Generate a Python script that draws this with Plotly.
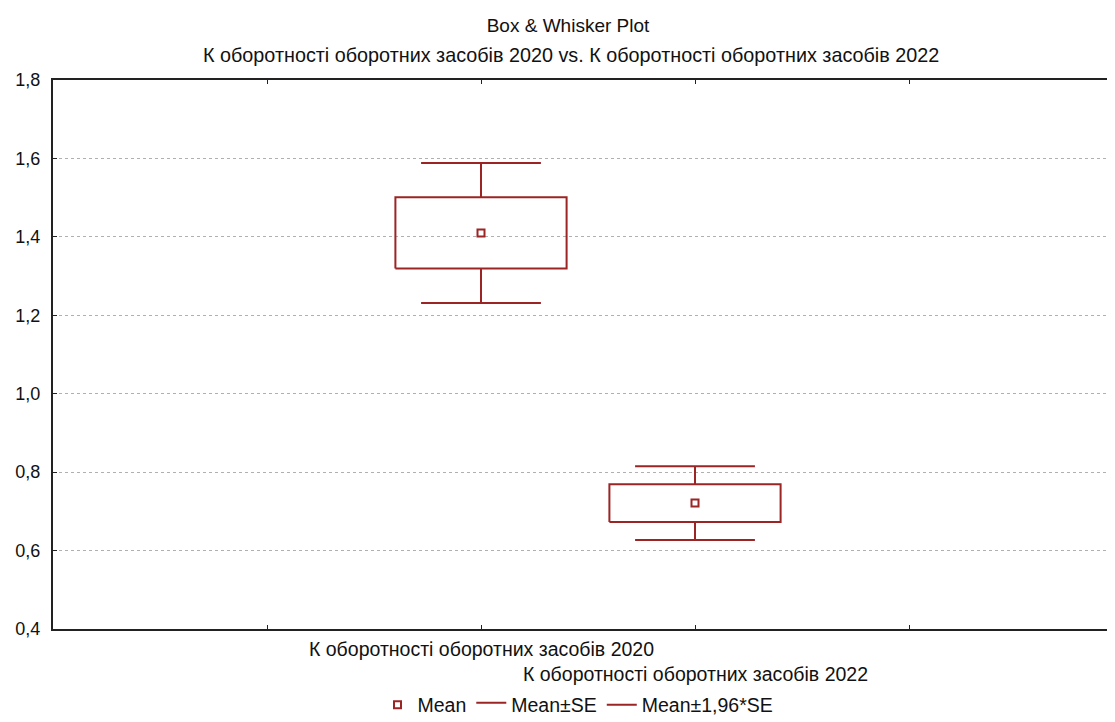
import plotly.graph_objects as go

categories = ["К оборотності оборотних засобів 2020", "К оборотності оборотних засобів 2022"]
cat_pos = [1, 2]
means = [1.410, 0.721]
se = [0.091, 0.048]
ci_mult = 1.96
title_main = "Box & Whisker Plot"
subtitle = "К оборотності оборотних засобів 2020 vs. К оборотності оборотних засобів 2022"

COLOR = "#9b2424"
BOX_HALF = 0.40
CAP_HALF = 0.28
FONT = "Liberation Sans, Arial"
FS = 19.5
W, H = 1115, 714
ML, MT, MB = 45, 72, 93
PLOT_H = H - MT - MB
PLOT_W = W - ML

box_x, box_y, wh_x, wh_y = [], [], [], []
for c, m, s in zip(cat_pos, means, se):
    lo, hi = m - s, m + s
    wlo, whi = m - ci_mult * s, m + ci_mult * s
    box_x += [c - BOX_HALF, c + BOX_HALF, c + BOX_HALF, c - BOX_HALF, c - BOX_HALF, None]
    box_y += [lo, lo, hi, hi, lo, None]
    wh_x += [c, c, None, c, c, None, c - CAP_HALF, c + CAP_HALF, None, c - CAP_HALF, c + CAP_HALF, None]
    wh_y += [hi, whi, None, lo, wlo, None, whi, whi, None, wlo, wlo, None]

fig = go.Figure()
fig.add_trace(go.Scatter(x=cat_pos, y=means, mode="markers", name="Mean",
                         marker=dict(symbol="square-open", size=7, color=COLOR, line=dict(width=2, color=COLOR))))
fig.add_trace(go.Scatter(x=box_x, y=box_y, mode="lines", name="Mean±SE", fill="toself",
                         fillcolor="rgba(255,255,255,0)", line=dict(color=COLOR, width=2)))
fig.add_trace(go.Scatter(x=wh_x, y=wh_y, mode="lines", name="Mean±1,96*SE",
                         line=dict(color=COLOR, width=2)))

for i, (c, name) in enumerate(zip(cat_pos, categories)):
    fig.add_annotation(x=c, xref="x", y=0, yref="paper", text=name, showarrow=False,
                       yanchor="middle", yshift=-20 - 25 * i,
                       font=dict(size=FS, color="#111", family=FONT))

fig.add_annotation(x=(563 - ML) / PLOT_W, xref="paper", y=1 + (MT - 47) / PLOT_H, yref="paper", text=subtitle,
                   showarrow=False, xanchor="center", yanchor="middle",
                   font=dict(size=19.8, color="#111", family=FONT))

fig.update_layout(
    width=W, height=H,
    margin=dict(l=ML, r=0, t=MT, b=MB, autoexpand=False),
    paper_bgcolor="white", plot_bgcolor="white",
    separators=", ",
    font=dict(family=FONT, size=FS, color="#111"),
    title=dict(text=title_main, x=560 / W, xanchor="center", y=1 - 17 / H, yanchor="middle",
               font=dict(size=19, color="#111")),
    showlegend=True,
    legend=dict(orientation="h", x=(570 - ML) / PLOT_W, xanchor="center", y=-(697 - (H - MB)) / PLOT_H,
                yanchor="middle", font=dict(size=FS), itemwidth=30, tracegroupgap=0),
    xaxis=dict(range=[-1, 4], tickvals=[0, 1, 2, 3], ticktext=["", "", "", ""],
               ticks="inside", ticklen=4, tickcolor="#222", showline=True, linecolor="#222",
               linewidth=2, mirror="ticks", showgrid=False, zeroline=False),
    yaxis=dict(range=[0.4, 1.8], dtick=0.2, tick0=0.4, tickformat=".1f", ticks="inside", ticklen=4,
               tickcolor="#222", showline=True, linecolor="#222", linewidth=2,
               showgrid=True, gridcolor="#b0b0b0", griddash="dot", gridwidth=1,
               zeroline=False, ticklabelstandoff=7, tickfont=dict(size=18)),
)

fig.write_html("out.html")
